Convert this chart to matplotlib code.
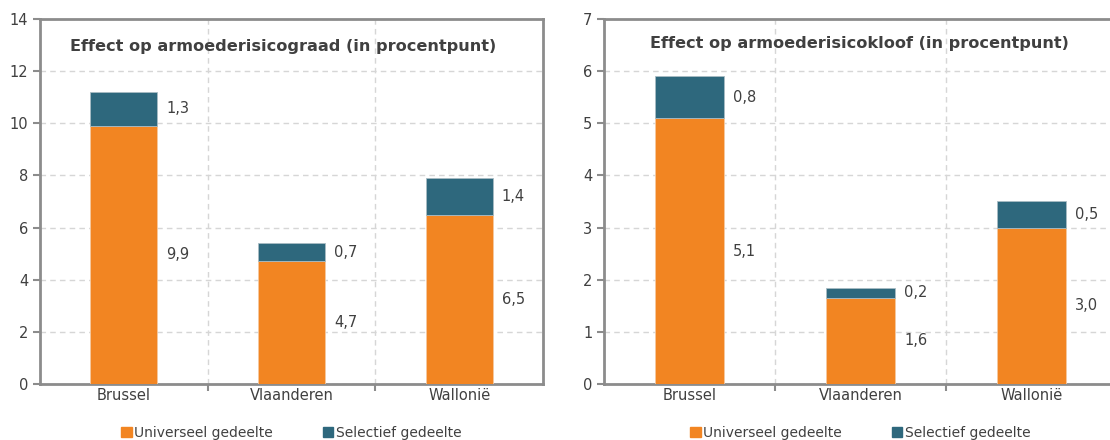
import numpy as np
import matplotlib.pyplot as plt
from matplotlib.patches import Patch

regions = ['Brussel', 'Vlaanderen', 'Wallonië']
univ_graad = [9.9, 4.7, 6.5]
sel_graad = [1.3, 0.7, 1.4]
univ_kloof = [5.1, 1.65, 3.0]
sel_kloof = [0.8, 0.2, 0.5]
univ_kloof_lbl = ['5,1', '1,6', '3,0']

orange = '#F28522'
teal = '#2E687D'
txt = '#404040'
spine = '#8C8C8C'

plt.rcParams['font.family'] = ['DejaVu Sans']
fig = plt.figure(figsize=(11.1, 4.4), dpi=100)
# right panel runs past the figure edge, like the source
ax1 = fig.add_axes([40 / 1110, 56 / 440, 503 / 1110, 365 / 440])
ax2 = fig.add_axes([604 / 1110, 56 / 440, 513 / 1110, 365 / 440])


def draw(ax, univ, sel, ymax, title, tx, ty, univ_lbl=None):
    x = np.arange(len(regions))
    ax.bar(x, univ, width=0.4, color=orange, edgecolor='#F5C9A0', linewidth=0.6, zorder=3)
    ax.bar(x, sel, width=0.4, bottom=univ, color=teal, edgecolor='#A9BCC4', linewidth=0.6, zorder=3)
    for i in range(len(regions)):
        lu = univ_lbl[i] if univ_lbl else f'{univ[i]:.1f}'.replace('.', ',')
        ax.text(x[i] + 0.255, univ[i] / 2, lu, va='center', ha='left', fontsize=10.5, color=txt)
        ax.text(x[i] + 0.255, univ[i] + sel[i] / 2, f'{sel[i]:.1f}'.replace('.', ','),
                va='center', ha='left', fontsize=10.5, color=txt)
    ax.set_xlim(-0.5, 2.5)
    ax.set_ylim(0, ymax)
    ax.set_yticks(range(0, ymax + 1, 2 if ymax > 7 else 1))
    ax.set_xticks(x)
    ax.set_xticklabels(regions)
    ax.set_xticks([0.5, 1.5], minor=True)
    ax.tick_params(axis='x', which='major', length=0, colors=txt, labelsize=10.5, pad=3)
    ax.tick_params(axis='x', which='minor', length=5, width=1.5, color=spine)
    ax.tick_params(axis='y', length=5, width=1.5, color=spine, labelcolor=txt, labelsize=10.5)
    ax.grid(axis='y', linestyle=(0, (4, 3)), color='#D6D6D6', linewidth=1, zorder=0)
    ax.grid(axis='x', which='minor', linestyle=(0, (4, 3)), color='#D6D6D6', linewidth=1, zorder=0)
    for s in ax.spines.values():
        s.set_color(spine)
        s.set_linewidth(2)
    ax.text(tx, ty, title, transform=ax.transAxes, ha='center', va='center',
            fontsize=11.6, fontweight='bold', color=txt)
    handles = [Patch(color=orange), Patch(color=teal)]
    ax.legend(handles, ['Universeel gedeelte', 'Selectief gedeelte'], loc='center',
              bbox_to_anchor=(0.5, -0.133), ncol=2, frameon=False, fontsize=10,
              handlelength=0.75, handleheight=0.75, handletextpad=0.2, columnspacing=3.6,
              labelcolor=txt)


draw(ax1, univ_graad, sel_graad, 14, 'Effect op armoederisicograad (in procentpunt)', 0.483, 0.926)
draw(ax2, univ_kloof, sel_kloof, 7, 'Effect op armoederisicokloof (in procentpunt)', 0.497, 0.932,
     univ_kloof_lbl)
ax2.spines['right'].set_visible(False)

fig.savefig('out.png', dpi=100)
